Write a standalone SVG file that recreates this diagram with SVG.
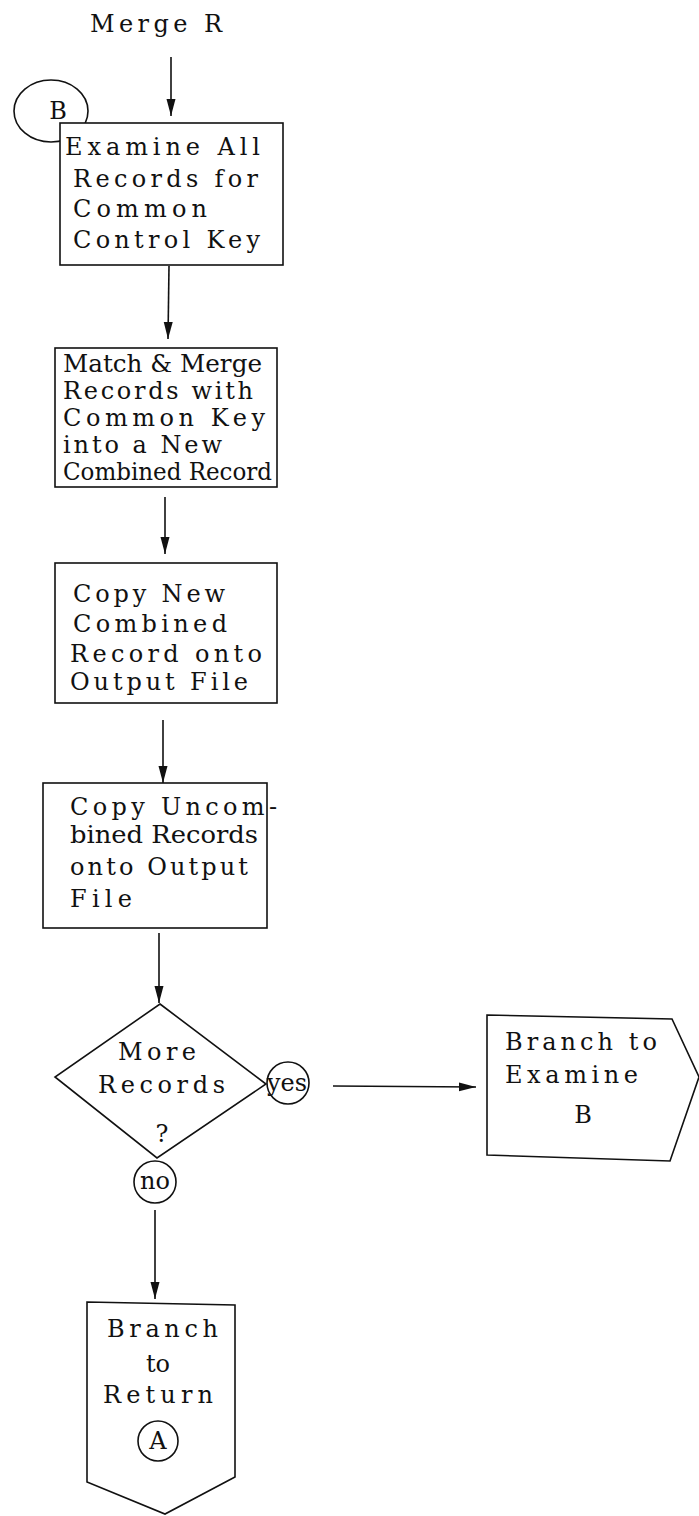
<svg xmlns="http://www.w3.org/2000/svg" width="699" height="1516" viewBox="0 0 699 1516">
<style>
.s{fill:#fff;stroke:#111;stroke-width:1.6}
.t{font-family:"DejaVu Serif","Liberation Serif",serif;font-size:24px;fill:#111}
.c{stroke:#111;stroke-width:1.6;fill:none}
</style>
<defs>
<marker id="ah" markerUnits="userSpaceOnUse" markerWidth="18" markerHeight="10" refX="17" refY="4.5" orient="auto">
<path d="M0,0 L17,4.5 L0,9 Z" fill="#111"/>
</marker>
</defs>
<rect width="699" height="1516" fill="#fff"/>
<g id="title">
<text class="t" x="90" y="32" textLength="132" lengthAdjust="spacing">Merge R</text>
</g>
<g id="connB">
<ellipse class="s" cx="51" cy="111" rx="37" ry="31"/>
<text class="t" x="58" y="119" text-anchor="middle">B</text>
</g>
<g id="connectors">
<line class="c" x1="171" y1="57" x2="171" y2="116" marker-end="url(#ah)"/>
<line class="c" x1="169" y1="266" x2="168" y2="339" marker-end="url(#ah)"/>
<line class="c" x1="165" y1="497" x2="165" y2="554" marker-end="url(#ah)"/>
<line class="c" x1="163" y1="720" x2="163" y2="783" marker-end="url(#ah)"/>
<line class="c" x1="159" y1="933" x2="159" y2="1003" marker-end="url(#ah)"/>
<line class="c" x1="333" y1="1086" x2="476" y2="1087" marker-end="url(#ah)"/>
<line class="c" x1="155" y1="1210" x2="155" y2="1299" marker-end="url(#ah)"/>
</g>
<g id="examine">
<rect class="s" x="60" y="123" width="223" height="142"/>
<text class="t" x="65" y="155" textLength="195" lengthAdjust="spacing">Examine All</text>
<text class="t" x="73" y="187" textLength="185" lengthAdjust="spacing">Records for</text>
<text class="t" x="73" y="217" textLength="134" lengthAdjust="spacing">Common</text>
<text class="t" x="73" y="248" textLength="187" lengthAdjust="spacing">Control Key</text>
</g>
<g id="match">
<rect class="s" x="55" y="348" width="222" height="139"/>
<text class="t" x="63" y="372" textLength="199" lengthAdjust="spacingAndGlyphs">Match &amp; Merge</text>
<text class="t" x="63" y="399" textLength="190" lengthAdjust="spacing">Records with</text>
<text class="t" x="63" y="426" textLength="202" lengthAdjust="spacing">Common Key</text>
<text class="t" x="63" y="453" textLength="159" lengthAdjust="spacing">into a New</text>
<text class="t" x="63" y="480" font-size="21" textLength="209" lengthAdjust="spacingAndGlyphs">Combined Record</text>
</g>
<g id="copynew">
<rect class="s" x="55" y="563" width="222" height="140"/>
<text class="t" x="73" y="602" textLength="152" lengthAdjust="spacing">Copy New</text>
<text class="t" x="73" y="632" textLength="154" lengthAdjust="spacing">Combined</text>
<text class="t" x="70" y="662" textLength="192" lengthAdjust="spacing">Record onto</text>
<text class="t" x="70" y="690" textLength="178" lengthAdjust="spacing">Output File</text>
</g>
<g id="copyuncombined">
<rect class="s" x="43" y="783" width="224" height="145"/>
<text class="t" x="70" y="815" textLength="207" lengthAdjust="spacing">Copy Uncom-</text>
<text class="t" x="70" y="843" textLength="188" lengthAdjust="spacingAndGlyphs">bined Records</text>
<text class="t" x="70" y="875" textLength="178" lengthAdjust="spacing">onto Output</text>
<text class="t" x="70" y="907" textLength="62" lengthAdjust="spacing">File</text>
</g>
<g id="decision">
<polygon class="s" points="160,1004 266,1084 157,1158 55,1077"/>
<text class="t" x="118" y="1060" textLength="78" lengthAdjust="spacing">More</text>
<text class="t" x="98" y="1093" textLength="127" lengthAdjust="spacing">Records</text>
<text class="t" x="162" y="1142" text-anchor="middle">?</text>
</g>
<g id="yes">
<circle class="s" cx="288" cy="1083" r="21"/>
<text class="t" x="267" y="1091" textLength="40" lengthAdjust="spacingAndGlyphs" font-size="22">yes</text>
</g>
<g id="no">
<circle class="s" cx="155" cy="1182" r="21"/>
<text class="t" x="155" y="1189" text-anchor="middle" font-size="22">no</text>
</g>
<g id="branchexamine">
<polygon class="s" points="487,1015 672,1019 699,1077 670,1161 487,1155"/>
<text class="t" x="505" y="1050" textLength="152" lengthAdjust="spacing">Branch to</text>
<text class="t" x="505" y="1083" textLength="133" lengthAdjust="spacing">Examine</text>
<text class="t" x="583" y="1123" text-anchor="middle">B</text>
</g>
<g id="branchreturn">
<polygon class="s" points="87,1302 235,1305 235,1477 165,1514 87,1482"/>
<text class="t" x="107" y="1337" textLength="111" lengthAdjust="spacing">Branch</text>
<text class="t" x="158" y="1372" text-anchor="middle">to</text>
<text class="t" x="103" y="1403" textLength="110" lengthAdjust="spacing">Return</text>
<circle class="s" cx="158" cy="1441" r="20"/>
<text class="t" x="158" y="1449" text-anchor="middle">A</text>
</g>
</svg>
